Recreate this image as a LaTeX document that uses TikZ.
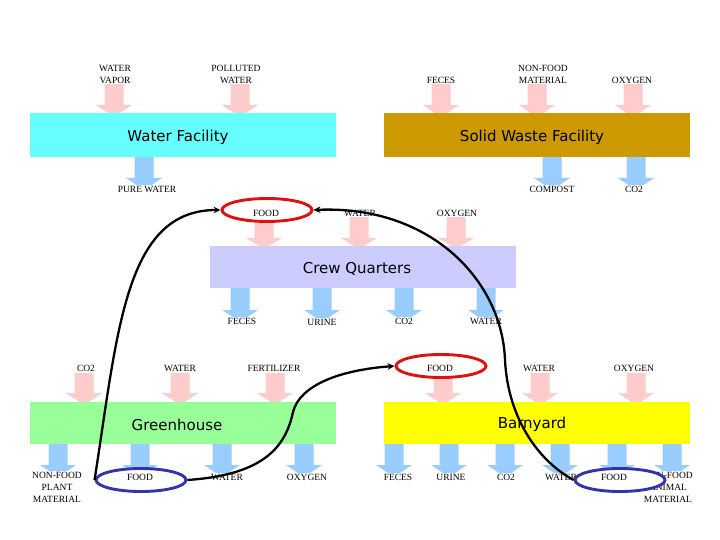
\documentclass[tikz,border=0pt]{standalone}
\usepackage{fontspec}
\setmainfont{Liberation Serif}
\newfontfamily\titlefont{DejaVu Sans}
\usetikzlibrary{shapes.geometric,arrows.meta}
\definecolor{inpink}{HTML}{FFCCCC}
\definecolor{outblue}{HTML}{99CCFF}
\definecolor{watercyan}{HTML}{66FFFF}
\definecolor{wastegold}{HTML}{CC9900}
\definecolor{crewlav}{HTML}{CCCCFF}
\definecolor{greengh}{HTML}{99FF99}
\definecolor{barnyel}{HTML}{FFFF00}
\definecolor{ringred}{HTML}{DD1111}
\definecolor{ringblue}{HTML}{3333AA}
% x, top, head base, tip, colour
\newcommand{\flowarrow}[5]{\fill[#5] ({#1-9.5},#2) -- ({#1+9.5},#2) -- ({#1+9.5},#3) -- ({#1+18},#3) -- (#1,#4) -- ({#1-18},#3) -- ({#1-9.5},#3) -- cycle;}
\begin{document}
\begin{tikzpicture}[x=1pt,y=-1pt,
  facility/.style={inner sep=0pt, minimum width=306pt, minimum height=44pt},
  titletext/.style={font=\titlefont\fontsize{15}{17}\selectfont, inner sep=0pt},
  lbl/.style={font=\fontsize{9.5}{12}\selectfont, align=center, fill=white, inner sep=0.6pt},
  fl/.style={font=\fontsize{9.5}{12}\selectfont, inner sep=0.6pt},
  ring/.style={ellipse, line width=2.9pt, fill=white, inner sep=0pt, minimum width=90pt, minimum height=23pt},
  link/.style={line width=2.3pt, -{Stealth[length=7pt,width=6.5pt]}}]
\useasboundingbox (0,0) rectangle (720,540);
\fill[white] (0,0) rectangle (720,540);
% input arrows
\foreach \x in {114,240,441,537,633} {\flowarrow{\x}{83}{105}{117}{inpink}}
\foreach \x in {264,359,456} {\flowarrow{\x}{217}{238}{249}{inpink}}
\foreach \x in {84,180,275,443,540,636} {\flowarrow{\x}{373}{393}{405}{inpink}}
% output arrows
\foreach \x in {144,552,636} {\flowarrow{\x}{157}{178}{190}{outblue}}
\foreach \x in {240,322,404,486} {\flowarrow{\x}{288}{310}{322}{outblue}}
\foreach \x in {58,140,222,304,394,449,505,560,617,672} {\flowarrow{\x}{444}{465}{477}{outblue}}
% facilities
\node[facility, fill=watercyan] (wf) at (183,135) {};
\node[facility, fill=wastegold] (sw) at (537,135) {};
\node[facility, fill=crewlav, minimum height=42pt] (cq) at (363,267) {};
\node[facility, fill=greengh, minimum height=42pt] (gh) at (183,423) {};
\node[facility, fill=barnyel, minimum height=42pt] (bn) at (537,423) {};
\node[titletext] (wft) at (178,137) {Water Facility};
\node[titletext] (swt) at (532,137) {Solid Waste Facility};
\node[titletext] (cqt) at (357,269) {Crew Quarters};
\node[titletext] (ght) at (177,425) {Greenhouse};
\node[titletext] (bnt) at (532,424) {Barnyard};
% labels top
\node[lbl] (l1) at (115,74) {WATER\\VAPOR};
\node[lbl] (l2) at (236,74) {POLLUTED\\WATER};
\node[lbl] (l3) at (441,80) {FECES};
\node[lbl] (l4) at (543,74) {NON-FOOD\\MATERIAL};
\node[lbl] (l5) at (632,80) {OXYGEN};
\node[lbl] (l6) at (147,189) {PURE WATER};
\node[lbl] (l7) at (552,189) {COMPOST};
\node[lbl] (l8) at (634,189) {CO2};
% crew
\node[lbl] (l10) at (360,213) {WATER};
\node[lbl] (l11) at (457,213) {OXYGEN};
\node[lbl] (l12) at (242,321) {FECES};
\node[lbl] (l13) at (322,322) {URINE};
\node[lbl] (l14) at (404,321) {CO2};
\node[lbl] (l15) at (486,321) {WATER};
% greenhouse
\node[lbl] (l16) at (86,368) {CO2};
\node[lbl] (l17) at (180,368) {WATER};
\node[lbl] (l18) at (274,368) {FERTILIZER};
\node[lbl, anchor=north] (l19) at (57,471) {NON-FOOD\\PLANT\\MATERIAL};
\node[lbl] (l20) at (227,477) {WATER};
\node[lbl] (l21) at (307,477) {OXYGEN};
% barnyard
\node[lbl] (l23) at (539,368) {WATER};
\node[lbl] (l24) at (634,368) {OXYGEN};
\node[lbl] (l25) at (398,477) {FECES};
\node[lbl] (l26) at (451,477) {URINE};
\node[lbl] (l27) at (506,477) {CO2};
\node[lbl] (l28) at (561,477) {WATER};
\node[lbl, anchor=north] (l29) at (668,471) {NON-FOOD\\ANIMAL\\MATERIAL};
% rings
\node[ring, draw=ringred] (crewfood) at (267,210) {};
\node[ring, draw=ringred] (bnfood) at (441,366) {};
\node[ring, draw=ringblue] (ghfood) at (141,480) {};
\node[ring, draw=ringblue] (bnfood2) at (620,480) {};
\node[fl] (l9) at (266,213) {FOOD};
\node[fl] (l22) at (440,368) {FOOD};
\node[fl] (l19b) at (140,477) {FOOD};
\node[fl] (l30) at (614,477) {FOOD};
% links
\coordinate (bend) at (293,412);
\coordinate (turn) at (505,360);
\draw[link] (ghfood.west) .. controls (118,330) and (125,210) .. (crewfood.west);
\draw[link] (ghfood.east) .. controls (260,475) and (285,450) .. (bend) .. controls (300,385) and (340,370) .. (bnfood.west);
\draw[link] (bnfood2.west) .. controls (540,462) and (508,420) .. (turn) .. controls (502,280) and (430,205) .. (crewfood.east);
\end{tikzpicture}
\end{document}
